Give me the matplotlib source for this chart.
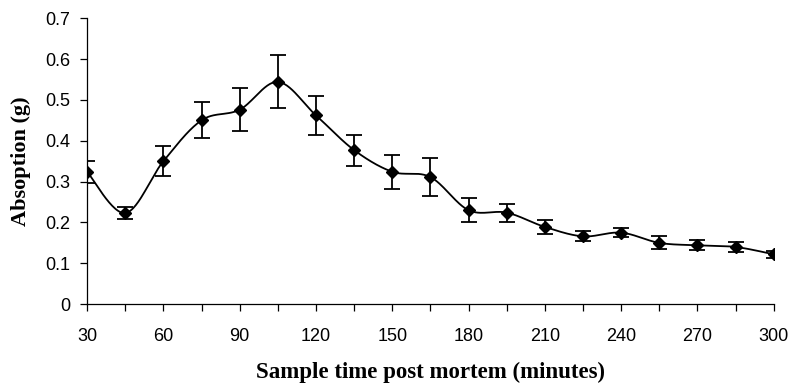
#!/usr/bin/env python3

import numpy as np
import matplotlib
matplotlib.use('Agg')
import matplotlib.pyplot as plt

# sample times (minutes) and mean absorption (g) with error bars
minutes = [30, 45, 60, 75, 90, 105, 120, 135, 150, 165,
           180, 195, 210, 225, 240, 255, 270, 285, 300]
absorption = [0.324, 0.223, 0.350, 0.450, 0.476, 0.544, 0.462, 0.377, 0.324, 0.311,
              0.230, 0.224, 0.189, 0.166, 0.175, 0.150, 0.144, 0.140, 0.122]
errors = [0.027, 0.015, 0.036, 0.044, 0.052, 0.065, 0.047, 0.038, 0.042, 0.047,
          0.030, 0.022, 0.018, 0.012, 0.011, 0.016, 0.012, 0.012, 0.008]

x_ticks = list(range(30, 301, 30))
y_ticks = [0, 0.1, 0.2, 0.3, 0.4, 0.5, 0.6, 0.7]
y_tick_labels = ['0', '0.1', '0.2', '0.3', '0.4', '0.5', '0.6', '0.7']


def smooth_line(x, y, steps=30):
    '''Excel-style smoothed line: Catmull-Rom bezier through the points.'''
    x = np.asarray(x, float)
    y = np.asarray(y, float)
    pts = np.column_stack([x, y])
    pts = np.vstack([pts[0], pts, pts[-1]])
    out = []
    t = np.linspace(0, 1, steps)[:, None]
    for i in range(1, len(pts) - 2):
        p0, p1, p2, p3 = pts[i - 1], pts[i], pts[i + 1], pts[i + 2]
        c1 = p1 + (p2 - p0) / 6
        c2 = p2 - (p3 - p1) / 6
        seg = ((1 - t) ** 3) * p1 + 3 * ((1 - t) ** 2) * t * c1 \
            + 3 * (1 - t) * t ** 2 * c2 + t ** 3 * p2
        out.append(seg)
    out = np.vstack(out)
    return out[:, 0], out[:, 1]


fig = plt.figure(figsize=(7.92, 3.86), dpi=100)
ax = fig.add_axes([0.110, 0.212, 0.867, 0.741])

sx, sy = smooth_line(minutes, absorption)
ax.plot(sx, sy, color='black', lw=1.3, zorder=2)
ax.errorbar(minutes, absorption, yerr=errors, fmt='none', ecolor='black',
            elinewidth=1.3, capsize=6, capthick=1.3, zorder=3)
ax.plot(minutes, absorption, 'D', color='black', markersize=6, zorder=4)

ax.set_xlim(30, 300)
ax.set_ylim(0, 0.7)
ax.set_xticks(x_ticks)
ax.set_xticks(range(30, 301, 15), minor=True)
ax.set_yticks(y_ticks)
ax.set_yticklabels(y_tick_labels)

for side in ['top', 'right']:
    ax.spines[side].set_visible(False)
for side in ['left', 'bottom']:
    ax.spines[side].set_linewidth(0.9)
ax.tick_params(axis='both', which='both', direction='out', length=5, width=0.9,
               labelsize=13)
ax.tick_params(axis='x', pad=12)
ax.tick_params(axis='y', pad=7)
for lbl in ax.get_xticklabels() + ax.get_yticklabels():
    lbl.set_family('Liberation Sans')

ax.set_xlabel('Sample time post mortem (minutes)', family='Liberation Serif',
              fontweight='bold', fontsize=16.5, labelpad=12)
ax.set_ylabel('Absoption (g)', family='Liberation Serif',
              fontweight='bold', fontsize=16, labelpad=10)

fig.savefig('out.png', dpi=100)
